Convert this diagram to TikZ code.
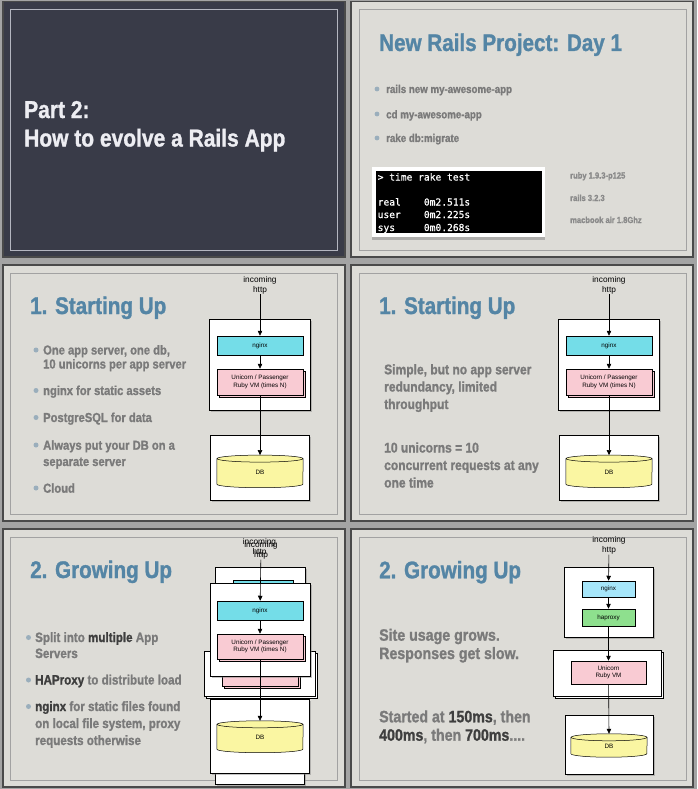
\documentclass[tikz,border=0pt]{standalone}
\usepackage{fontspec}
\setmainfont{Liberation Sans}
\newfontfamily\condf[FakeStretch=0.86, BoldFeatures={FakeBold=1.2}]{Liberation Sans}
\newfontfamily\monof[FakeBold=0.6]{DejaVu Sans Mono}
\usetikzlibrary{arrows.meta,shadows}
\definecolor{pagebg}{HTML}{A4A4A4}
\definecolor{slidebg}{HTML}{DDDCD7}
\definecolor{slideedge}{HTML}{4A4A4A}
\definecolor{inneredge}{HTML}{A2A2A2}
\definecolor{darkbg}{HTML}{393B48}
\definecolor{darkinner}{HTML}{B4B6C0}
\definecolor{titleblue}{HTML}{5485A5}
\definecolor{bodygray}{HTML}{7A7A7A}
\definecolor{smallgray}{HTML}{8A8A8A}
\definecolor{darktext}{HTML}{3E3E3E}
\definecolor{bulletc}{HTML}{9AAEBC}
\definecolor{nginxc}{HTML}{74DDE8}
\definecolor{nginxlight}{HTML}{A6E6FA}
\definecolor{haproxyc}{HTML}{8EE08E}
\definecolor{unicornc}{HTML}{F9CBD3}
\definecolor{dbc}{HTML}{FAF6A2}
\definecolor{whitetext}{HTML}{EDEDF2}

\newcommand{\dbcyl}[2]{%
  \fill[dbc] (#1.north west) rectangle (#1.south east);
  \fill[dbc] (#1.south) ellipse[x radius=#2, y radius=3.5pt];
  \draw[line width=0.5pt] (#1.north west) -- (#1.south west) arc[start angle=180, end angle=360, x radius=#2, y radius=3.5pt] -- (#1.north east);
  \draw[line width=0.5pt, fill=dbc] (#1.north) ellipse[x radius=#2, y radius=3.5pt];
  \node[dtext] (#1-l) at ([yshift=-1pt]#1.center) {DB};
}

\newcommand{\startdiag}{%
  \node[incoming] (inc) at (260,285) {incoming\\http};
  \node[server, minimum width=101pt, minimum height=91pt] (app) at (259.5,364.5) {};
  \node[dbox, fill=nginxc, minimum width=86pt, minimum height=19pt] (ngx) at (260,345.5) {nginx};
  \node[dbox, fill=unicornc, stacked, minimum width=86pt, minimum height=26pt] (uni) at (260,382) {Unicorn / Passenger\\Ruby VM (times N)};
  \node[server, minimum width=99pt, minimum height=65pt] (dbs) at (259.5,467.5) {};
  \node[inner sep=0, minimum width=86pt, minimum height=25.2pt] (db) at (260,471.4) {};
  \dbcyl{db}{43pt}
  \draw[arr] (inc) -- (ngx);
  \draw[arr] (ngx) -- (uni);
  \draw[arr] (uni) -- ([yshift=3.5pt]db.north);
}

\begin{document}
\begin{tikzpicture}[x=1pt,y=-1pt,
  slide/.style={fill=slidebg, draw=slideedge, line width=1.6pt},
  inner/.style={draw=inneredge, line width=0.6pt},
  title/.style={anchor=base west, inner sep=0, text=titleblue, font=\condf\bfseries\fontsize{24}{24}\selectfont},
  body/.style={anchor=base west, inner sep=0, text=bodygray, font=\condf\bfseries\fontsize{#1}{#1}\selectfont},
  body/.default=13,
  bul/.style={fill=bulletc},
  server/.style={draw=black, fill=white, line width=0.6pt, inner sep=0,
    drop shadow={shadow xshift=1.6pt, shadow yshift=-1.8pt, opacity=0.45}},
  stacked/.style={copy shadow={shadow xshift=2.2pt, shadow yshift=-2.2pt}},
  dbox/.style={draw=black, line width=0.5pt, inner sep=0, align=center,
    font=\fontsize{6.3}{7.5}\selectfont},
  dtext/.style={inner sep=0, font=\fontsize{6.3}{7.5}\selectfont},
  incoming/.style={inner sep=0, align=center, font=\fontsize{8.3}{10}\selectfont},
  arr/.style={-{Triangle[length=5pt,width=4.5pt]}, line width=0.6pt},
  term/.style={anchor=base west, inner sep=0, text=white, font=\monof\fontsize{9.6}{9.6}\selectfont}]
\useasboundingbox (0,0) rectangle (697,789);
\fill[pagebg] (0,0) rectangle (697,789);

% ---------- slide frames ----------
\path[slide, fill=darkbg] (3,1.5) rectangle (345,257);
\draw[draw=darkinner, line width=0.6pt] (10,9) rectangle (337.5,250.5);
\path[slide] (351,1.5) rectangle (693,257);
\draw[inner] (359.5,9) rectangle (686,250.5);
\path[slide] (3,265) rectangle (345,521);
\draw[inner] (10,273) rectangle (337.5,514);
\path[slide] (351,265) rectangle (693,521);
\draw[inner] (359.5,273) rectangle (686,514);
\path[slide] (3,529) rectangle (345,787);
\draw[inner] (10,537) rectangle (337.5,780.5);
\path[slide] (351,529) rectangle (693,787);
\draw[inner] (359.5,537) rectangle (686,780.5);

% ---------- slide 1 ----------
\node[anchor=base west, inner sep=0, text=whitetext, font=\condf\bfseries\fontsize{24.4}{24.4}\selectfont] (p1a) at (24,118) {Part 2:};
\node[anchor=base west, inner sep=0, text=whitetext, font=\condf\bfseries\fontsize{24.4}{24.4}\selectfont] (p1b) at (24,146.5) {How to evolve a Rails App};

% ---------- slide 2 ----------
\node[title] (t2) at (379,51) {New Rails Project: Day 1};
\fill[bul] (377,89) circle[radius=2.4pt];
\node[body=11.3] (b2a) at (386,93) {rails new my-awesome-app};
\fill[bul] (377,114) circle[radius=2.4pt];
\node[body=11.3] (b2b) at (386,118.3) {cd my-awesome-app};
\fill[bul] (377,138) circle[radius=2.4pt];
\node[body=11.3] (b2c) at (386,142) {rake db:migrate};
\fill[white, drop shadow={shadow xshift=0pt, shadow yshift=-2.5pt, opacity=0.5}] (372,167) rectangle (545,237);
\fill[black] (376,171) rectangle (541.5,233);
\node[term] (tm1) at (377.5,180.5) {> time rake test};
\node[term] (tm2) at (377.5,205.5) {real~~~~0m2.511s};
\node[term] (tm3) at (377.5,218) {user~~~~0m2.225s};
\node[term] (tm4) at (377.5,231) {sys~~~~~0m0.268s};
\node[body=8.8, text=smallgray] (r1) at (570,178.5) {ruby 1.9.3-p125};
\node[body=8.8, text=smallgray] (r2) at (570,201) {rails 3.2.3};
\node[body=8.8, text=smallgray] (r3) at (570,223) {macbook air 1.8Ghz};

% ---------- slide 3 ----------
\node[title] (t3) at (30,314) {1. Starting Up};
\fill[bul] (36,350) circle[radius=2.5pt];
\node[body] (b3a) at (43,354.5) {One app server, one db,};
\node[body] (b3b) at (43,368.5) {10 unicorns per app server};
\fill[bul] (36,390.5) circle[radius=2.5pt];
\node[body] (b3c) at (43,395) {nginx for static assets};
\fill[bul] (36,417.5) circle[radius=2.5pt];
\node[body] (b3d) at (43,422) {PostgreSQL for data};
\fill[bul] (36,445) circle[radius=2.5pt];
\node[body] (b3e) at (43,449.7) {Always put your DB on a};
\node[body] (b3f) at (43,466) {separate server};
\fill[bul] (36,488) circle[radius=2.5pt];
\node[body] (b3g) at (43,492.7) {Cloud};
\begin{scope}[name prefix=s3-]
  \startdiag
\end{scope}

% ---------- slide 4 ----------
\node[title] (t4) at (379,314) {1. Starting Up};
\node[body=14] (b4a) at (384,374.3) {Simple, but no app server};
\node[body=14] (b4b) at (384,391.5) {redundancy, limited};
\node[body=14] (b4c) at (384,409) {throughput};
\node[body=14] (b4d) at (384,452.5) {10 unicorns = 10};
\node[body=14] (b4e) at (384,470) {concurrent requests at any};
\node[body=14] (b4f) at (384,487.5) {one time};
\begin{scope}[xshift=349pt, name prefix=s4-]
  \startdiag
\end{scope}

% ---------- slide 5 ----------
\node[title] (t5) at (30,578) {2. Growing Up};
\fill[bul] (28.5,637.5) circle[radius=2.5pt];
\node[body=13.5] (b5a) at (35,642) {Split into \textcolor{darktext}{multiple} App};
\node[body=13.5] (b5b) at (35,658) {Servers};
\fill[bul] (28.5,680) circle[radius=2.5pt];
\node[body=13.5] (b5c) at (35,684.5) {\textcolor{darktext}{HAProxy} to distribute load};
\fill[bul] (28.5,706.5) circle[radius=2.5pt];
\node[body=13.5] (b5d) at (35,711) {\textcolor{darktext}{nginx} for static files found};
\node[body=13.5] (b5e) at (35,728) {on local file system, proxy};
\node[body=13.5] (b5f) at (35,745) {requests otherwise};
% back layer
\node[server, minimum width=90pt, minimum height=43pt] (g-backapp) at (260,588.5) {};
\node[dbox, fill=nginxc, minimum width=60pt, minimum height=16pt] (g-backngx) at (263,588) {};
\node[server, minimum width=89pt, minimum height=79pt] (g-backdbs) at (259.5,744.5) {};
\node[server, stacked, minimum width=111pt, minimum height=45pt] (g-midapp) at (259.5,673.5) {};
\node[dbox, fill=unicornc, stacked, minimum width=76pt, minimum height=31pt] (g-miduni) at (260,670.5) {Unicorn / Passenger\\Ruby VM (times N)};
% front layer
\node[server, minimum width=99pt, minimum height=74pt] (g-dbs) at (259.5,736) {};
\node[server, minimum width=100pt, minimum height=93pt] (g-app) at (260,629.5) {};
\node[dbox, fill=nginxc, minimum width=86pt, minimum height=19pt] (g-ngx) at (260,610.5) {nginx};
\node[dbox, fill=unicornc, stacked, minimum width=86pt, minimum height=25pt] (g-uni) at (260,646.5) {Unicorn / Passenger\\Ruby VM (times N)};
\node[inner sep=0, minimum width=86pt, minimum height=24.5pt] (g-db) at (260,736.75) {};
\dbcyl{g-db}{43pt}
\node[incoming] (g-inca) at (259.5,547) {incoming\\http};
\node[incoming] (g-incb) at (261,550.5) {incoming\\http};
\draw[arr] (g-incb) -- (g-ngx);
\draw[arr] (g-ngx) -- (g-uni);
\draw[arr] (g-uni) -- ([yshift=3.5pt]g-db.north);

% ---------- slide 6 ----------
\node[title] (t6) at (379,578.3) {2. Growing Up};
\node[body=16.5] (b6a) at (379,640.7) {Site usage grows.};
\node[body=16.5] (b6b) at (379,659) {Responses get slow.};
\node[body=16.5] (b6c) at (379,722.3) {Started at \textcolor{darktext}{150ms}, then};
\node[body=16.5] (b6d) at (379,740.7) {\textcolor{darktext}{400ms}, then \textcolor{darktext}{700ms}....};
\node[incoming] (h-inc) at (609,545.5) {incoming\\http};
\node[server, minimum width=89pt, minimum height=70pt] (h-top) at (608.5,602) {};
\node[dbox, fill=nginxlight, minimum width=53pt, minimum height=16pt] (h-ngx) at (608.5,589) {nginx};
\node[dbox, fill=haproxyc, minimum width=53pt, minimum height=17pt] (h-hap) at (608.5,617.5) {haproxy};
\node[server, stacked, minimum width=108pt, minimum height=46pt] (h-mid) at (607,673) {};
\node[dbox, fill=unicornc, minimum width=75pt, minimum height=23pt] (h-uni) at (608.5,672.5) {Unicorn\\Ruby VM};
\node[server, minimum width=88pt, minimum height=59pt] (h-dbs) at (609,744.5) {};
\node[inner sep=0, minimum width=76pt, minimum height=16pt] (h-db) at (609,745.5) {};
\dbcyl{h-db}{38pt}
\draw[arr] (h-inc) -- (h-ngx);
\draw[arr] (h-ngx) -- (h-hap);
\draw[arr] (h-hap) -- (h-uni);
\draw[arr] (h-uni) -- ([yshift=3.5pt]h-db.north);
\end{tikzpicture}
\end{document}
